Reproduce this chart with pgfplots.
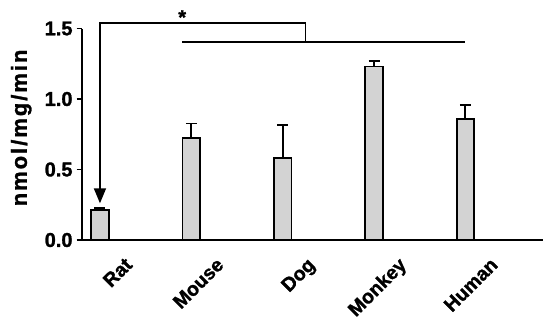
\documentclass[border=0pt]{standalone}
\usepackage{pgfplots}
\pgfplotsset{compat=1.18}
\usepackage{fontspec}
\setmainfont{Liberation Sans}[BoldFeatures={FakeBold=1.3}]
\newfontfamily\lblfont[LetterSpace=9, BoldFeatures={FakeBold=1.3}]{Liberation Sans}
\usetikzlibrary{arrows.meta}
\definecolor{barfill}{RGB}{211,211,211}
\pgfplotstableread{
x y e
0 0.210 0.015
1 0.726 0.100
2 0.584 0.229
3 1.230 0.040
4 0.860 0.095
}\datatable
\begin{document}
\begin{tikzpicture}
\begin{axis}[
  at={(0,0)}, anchor=south west,
  scale only axis, width=461.3pt, height=211.5pt,
  xmin=-0.2, xmax=4.85, ymin=0, ymax=1.5,
  axis lines*=left,
  axis line style={line width=1.8pt, -},
  ytick={0,0.5,1,1.5},
  /pgf/number format/fixed,
  /pgf/number format/fixed zerofill,
  /pgf/number format/precision=1,
  /pgf/number format/assume math mode=true,
  xtick={0,1,2,3,4},
  xticklabels={Rat,Mouse,Dog,Monkey,Human},
  x tick style={draw=none},
  y tick style={line width=1.8pt, black},
  major tick length=5pt, tick align=outside,
  tick label style={font=\fontsize{20}{20}\selectfont\bfseries},
  yticklabel style={inner sep=0pt, xshift=-4pt},
  xticklabel style={font=\fontsize{19.5}{19.5}\selectfont\bfseries, inner sep=0pt, xshift=33.5pt, yshift=-21pt, anchor=base east, rotate=45},
  ylabel={\lblfont\bfseries nmol/mg/min},
  ylabel style={font=\fontsize{22}{22}\selectfont, at={(axis description cs:0,0.53)}, anchor=south, inner sep=0pt, yshift=50pt},
  clip=false,
]
\addplot[ybar, bar width=17.5pt, fill=barfill, draw=black, line width=1.8pt,
  error bars/.cd, y dir=plus, y explicit,
  error bar style={line width=1.8pt, black},
  error mark options={rotate=90, mark size=5.5pt, line width=1.8pt, black}]
  table[x=x, y=y, y error=e] {\datatable};
\addplot[line width=1.6pt, black, line join=miter, -{Triangle[width=12pt,length=15pt]}]
  coordinates {(2.25,1.404) (2.25,1.537) (0,1.537) (0,0.26)};
\addplot[line width=1.6pt, black] coordinates {(0.9,1.404) (4,1.404)};
\node[font=\fontsize{20}{20}\selectfont\bfseries, anchor=north, inner sep=0pt] at (axis cs:0.9,1.63) {*};
\end{axis}
\pgfresetboundingbox
\useasboundingbox (-81.7pt,-82pt) rectangle (468.3pt,240pt);
\end{tikzpicture}
\end{document}
